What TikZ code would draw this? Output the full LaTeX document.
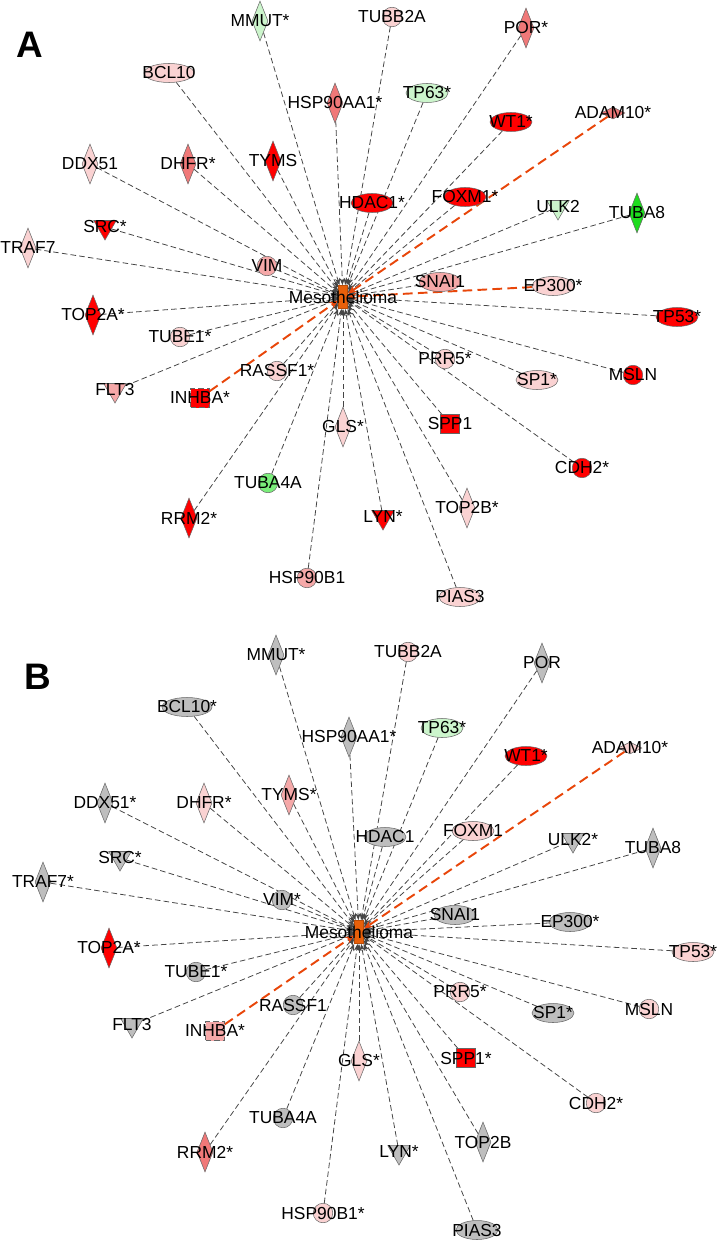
\documentclass[tikz,border=0pt]{standalone}
\usepackage{fontspec}
\setmainfont{Liberation Sans}
\usetikzlibrary{shapes.geometric,arrows.meta,backgrounds}
\definecolor{upred}{HTML}{FF0000}
\definecolor{upsalmon}{HTML}{F07878}
\definecolor{uppink}{HTML}{F5A8A8}
\definecolor{uplight}{HTML}{FAD2D2}
\definecolor{dnlight}{HTML}{CCF5CC}
\definecolor{dnmid}{HTML}{7AEE7A}
\definecolor{dngreen}{HTML}{1EDC1E}
\definecolor{nodata}{HTML}{BEBEBE}
\definecolor{diseaseorange}{HTML}{E8600A}
\definecolor{edgegray}{HTML}{454545}
\definecolor{edgeorange}{HTML}{E8460A}
\begin{document}
\begin{tikzpicture}[x=0.02cm,y=-0.02cm]
    \tikzset{gene/.style = {draw=gray!80!black,line width=0.3pt,inner sep=0pt},
      dia/.style = {gene,shape=diamond,minimum width=3.2mm,minimum height=8mm},
      flat/.style = {gene,shape=diamond,minimum width=4.8mm,minimum height=2.4mm},
      ell/.style = {gene,shape=ellipse,minimum width=8.4mm,minimum height=3.8mm},
      circ/.style = {gene,shape=circle,minimum size=3.9mm},
      sq/.style = {gene,shape=rectangle,minimum size=3.8mm},
      tri/.style = {gene,shape=regular polygon,regular polygon sides=3,shape border rotate=180,minimum size=5.2mm},
      disease/.style = {shape=rectangle,fill=diseaseorange,draw=diseaseorange!80!black,inner sep=0pt,minimum width=1.8mm,minimum height=4.6mm},
      every label/.style = {inner sep=0pt,font=\fontsize{9.9}{11}\selectfont},
      panel/.style = {font=\fontsize{21}{24}\selectfont\bfseries},
      link/.style = {draw=edgegray,line width=0.45pt,dash pattern=on 3.2pt off 1.8pt,-{Stealth[length=4pt,width=3pt]}},
      hitlink/.style = {draw=edgeorange,line width=1.1pt,dash pattern=on 5.5pt off 3pt,-{Stealth[length=5pt,width=4pt]}}}
    \useasboundingbox (0,0) rectangle (717,1240);
    % panel A
    \node[panel] (panelA) at (30,45) {A};
    \node[disease,label=center:Mesothelioma] (aMeso) at (343,297) {};
    \node[dia,fill=dnlight,label=center:MMUT*] (aMMUT) at (260,21) {};
    \node[circ,fill=uplight,label=center:TUBB2A] (aTUBB2A) at (392,17) {};
    \node[dia,fill=upsalmon,label=center:POR*] (aPOR) at (526,28) {};
    \node[ell,fill=uplight,minimum width=10mm,label=center:BCL10] (aBCL10) at (169,73) {};
    \node[dia,fill=upsalmon,label=center:HSP90AA1*] (aHSP90AA1) at (335,103) {};
    \node[ell,fill=dnlight,label=center:TP63*] (aTP63) at (427,93) {};
    \node[ell,fill=upred,label=center:WT1*] (aWT1) at (511,122) {};
    \node[flat,fill=upsalmon,label=center:ADAM10*] (aADAM10) at (613,113) {};
    \node[dia,fill=uplight,label=center:DDX51] (aDDX51) at (90,164) {};
    \node[dia,fill=upsalmon,label=center:DHFR*] (aDHFR) at (188,164) {};
    \node[dia,fill=upred,label=center:TYMS] (aTYMS) at (273,161) {};
    \node[ell,fill=upred,label=center:HDAC1*] (aHDAC1) at (372,203) {};
    \node[ell,fill=upred,label=center:FOXM1*] (aFOXM1) at (465,197) {};
    \node[tri,fill=dnlight,label=center:ULK2] (aULK2) at (558,207) {};
    \node[dia,fill=dngreen,label=center:TUBA8] (aTUBA8) at (637,213) {};
    \node[tri,fill=upred,label=center:SRC*] (aSRC) at (105,227) {};
    \node[dia,fill=uplight,label=center:TRAF7] (aTRAF7) at (28,248) {};
    \node[circ,fill=uppink,label=center:VIM] (aVIM) at (267,266) {};
    \node[ell,fill=uppink,label=center:SNAI1] (aSNAI1) at (440,282) {};
    \node[ell,fill=uplight,label=center:EP300*] (aEP300) at (553,286) {};
    \node[dia,fill=upred,label=center:TOP2A*] (aTOP2A) at (93,315) {};
    \node[ell,fill=upred,label=center:TP53*] (aTP53) at (677,317) {};
    \node[circ,fill=uplight,label=center:TUBE1*] (aTUBE1) at (180,337) {};
    \node[circ,fill=uplight,label=center:PRR5*] (aPRR5) at (445,359) {};
    \node[circ,fill=uplight,label=center:RASSF1*] (aRASSF1) at (277,371) {};
    \node[ell,fill=uplight,label=center:SP1*] (aSP1) at (537,380) {};
    \node[circ,fill=upred,label=center:MSLN] (aMSLN) at (633,375) {};
    \node[tri,fill=uppink,label=center:FLT3] (aFLT3) at (115,390) {};
    \node[sq,fill=upred,densely dashed,label=center:INHBA*] (aINHBA) at (200,398) {};
    \node[sq,fill=upred,label=center:SPP1] (aSPP1) at (450,424) {};
    \node[dia,fill=uplight,label=center:GLS*] (aGLS) at (343,427) {};
    \node[circ,fill=upred,label=center:CDH2*] (aCDH2) at (582,468) {};
    \node[circ,fill=dnmid,label=center:TUBA4A] (aTUBA4A) at (268,483) {};
    \node[dia,fill=uplight,label=center:TOP2B*] (aTOP2B) at (467,508) {};
    \node[tri,fill=upred,label=center:LYN*] (aLYN) at (383,517) {};
    \node[dia,fill=upred,label=center:RRM2*] (aRRM2) at (189,518) {};
    \node[circ,fill=uppink,label=center:HSP90B1] (aHSP90B1) at (307,578) {};
    \node[ell,fill=uplight,label=center:PIAS3] (aPIAS3) at (460,597) {};
    % panel B
    \node[panel] (panelB) at (38,677) {B};
    \node[disease,label=center:Mesothelioma] (bMeso) at (359,932) {};
    \node[dia,fill=nodata,label=center:MMUT*] (bMMUT) at (276,655) {};
    \node[circ,fill=uplight,label=center:TUBB2A] (bTUBB2A) at (408,652) {};
    \node[dia,fill=nodata,label=center:POR] (bPOR) at (542,663) {};
    \node[ell,fill=nodata,minimum width=10mm,label=center:BCL10*] (bBCL10) at (187,707) {};
    \node[dia,fill=nodata,label=center:HSP90AA1*] (bHSP90AA1) at (349,737) {};
    \node[ell,fill=dnlight,label=center:TP63*] (bTP63) at (442,728) {};
    \node[ell,fill=upred,label=center:WT1*] (bWT1) at (526,756) {};
    \node[flat,fill=uplight,label=center:ADAM10*] (bADAM10) at (630,748) {};
    \node[dia,fill=nodata,label=center:DDX51*] (bDDX51) at (105,803) {};
    \node[dia,fill=uplight,label=center:DHFR*] (bDHFR) at (204,803) {};
    \node[dia,fill=uppink,label=center:TYMS*] (bTYMS) at (289,795) {};
    \node[ell,fill=nodata,label=center:HDAC1] (bHDAC1) at (385,837) {};
    \node[ell,fill=uplight,label=center:FOXM1] (bFOXM1) at (473,831) {};
    \node[tri,fill=nodata,label=center:ULK2*] (bULK2) at (573,840) {};
    \node[dia,fill=nodata,label=center:TUBA8] (bTUBA8) at (653,848) {};
    \node[tri,fill=nodata,label=center:SRC*] (bSRC) at (120,858) {};
    \node[dia,fill=nodata,label=center:TRAF7*] (bTRAF7) at (43,882) {};
    \node[circ,fill=nodata,label=center:VIM*] (bVIM) at (282,900) {};
    \node[ell,fill=nodata,label=center:SNAI1] (bSNAI1) at (455,915) {};
    \node[ell,fill=nodata,label=center:EP300*] (bEP300) at (570,922) {};
    \node[dia,fill=upred,label=center:TOP2A*] (bTOP2A) at (109,948) {};
    \node[ell,fill=uplight,label=center:TP53*] (bTP53) at (693,952) {};
    \node[circ,fill=nodata,label=center:TUBE1*] (bTUBE1) at (196,972) {};
    \node[circ,fill=uplight,label=center:PRR5*] (bPRR5) at (460,992) {};
    \node[circ,fill=nodata,label=center:RASSF1] (bRASSF1) at (293,1005) {};
    \node[ell,fill=nodata,label=center:SP1*] (bSP1) at (553,1013) {};
    \node[circ,fill=uplight,label=center:MSLN] (bMSLN) at (649,1009) {};
    \node[tri,fill=nodata,label=center:FLT3] (bFLT3) at (132,1025) {};
    \node[sq,fill=uppink,densely dashed,label=center:INHBA*] (bINHBA) at (215,1031) {};
    \node[sq,fill=upred,label=center:SPP1*] (bSPP1) at (466,1058) {};
    \node[dia,fill=uplight,label=center:GLS*] (bGLS) at (359,1061) {};
    \node[circ,fill=uplight,label=center:CDH2*] (bCDH2) at (596,1103) {};
    \node[circ,fill=nodata,label=center:TUBA4A] (bTUBA4A) at (283,1118) {};
    \node[dia,fill=nodata,label=center:TOP2B] (bTOP2B) at (483,1142) {};
    \node[tri,fill=nodata,label=center:LYN*] (bLYN) at (399,1152) {};
    \node[dia,fill=upsalmon,label=center:RRM2*] (bRRM2) at (205,1152) {};
    \node[circ,fill=uplight,label=center:HSP90B1*] (bHSP90B1) at (323,1213) {};
    \node[ell,fill=nodata,label=center:PIAS3] (bPIAS3) at (477,1230) {};
    % connectors
    \begin{scope}[on background layer]
      \foreach \g in {MMUT,TUBB2A,POR,BCL10,HSP90AA1,TP63,WT1,DDX51,DHFR,TYMS,HDAC1,FOXM1,ULK2,TUBA8,SRC,TRAF7,VIM,SNAI1,TOP2A,TP53,TUBE1,PRR5,RASSF1,SP1,MSLN,FLT3,SPP1,GLS,CDH2,TUBA4A,TOP2B,LYN,RRM2,HSP90B1,PIAS3}
        \draw[link] (a\g) -- (aMeso);
      \foreach \g in {ADAM10,EP300,INHBA}
        \draw[hitlink] (a\g) -- (aMeso);
      \foreach \g in {MMUT,TUBB2A,POR,BCL10,HSP90AA1,TP63,WT1,DDX51,DHFR,TYMS,HDAC1,FOXM1,ULK2,TUBA8,SRC,TRAF7,VIM,SNAI1,EP300,TOP2A,TP53,TUBE1,PRR5,RASSF1,SP1,MSLN,FLT3,SPP1,GLS,CDH2,TUBA4A,TOP2B,LYN,RRM2,HSP90B1,PIAS3}
        \draw[link] (b\g) -- (bMeso);
      \foreach \g in {ADAM10,INHBA}
        \draw[hitlink] (b\g) -- (bMeso);
    \end{scope}
\end{tikzpicture}
\end{document}
